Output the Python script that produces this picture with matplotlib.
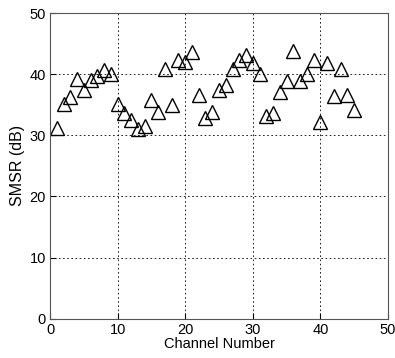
import matplotlib
matplotlib.use("Agg")
import matplotlib.pyplot as plt

# SMSR per channel
channel = list(range(1, 46))
smsr = [31.2, 35.2, 36.3, 39.3, 37.4, 39.1, 39.8, 40.7, 40.1, 35.1,
        33.6, 32.6, 31.0, 31.5, 35.8, 33.8, 40.9, 34.9, 42.3, 42.0,
        43.6, 36.6, 32.9, 33.8, 37.4, 38.2, 40.9, 42.3, 43.1, 41.8,
        40.1, 33.1, 33.7, 37.1, 38.9, 43.8, 38.9, 40.1, 42.3, 32.2,
        41.9, 36.4, 40.8, 36.6, 34.2]

x_ticks = [0, 10, 20, 30, 40, 50]
y_ticks = [0, 10, 20, 30, 40, 50]

plt.rcParams["font.family"] = ["Liberation Sans", "DejaVu Sans"]

fig = plt.figure(figsize=(3.95, 3.58), dpi=100)
ax = fig.add_axes([0.1266, 0.110, 0.8557, 0.853])

ax.plot(channel, smsr, linestyle="none", marker="^", markersize=10,
        markerfacecolor="none", markeredgecolor="black", markeredgewidth=1.0)

ax.set_xlim(0, 50)
ax.set_ylim(0, 50)
ax.set_xticks(x_ticks)
ax.set_yticks(y_ticks)
ax.tick_params(direction="in", labelsize=10.5, length=4, pad=3)
ax.set_xlabel("Channel Number", fontsize=10.5, labelpad=0)
ax.set_ylabel("SMSR (dB)", fontsize=11.5, labelpad=3)
ax.grid(True, color="black", linestyle=(0, (2, 3)), linewidth=0.6)

for s in ax.spines.values():
    s.set_color("#555555")

fig.savefig("out.png", dpi=100)
